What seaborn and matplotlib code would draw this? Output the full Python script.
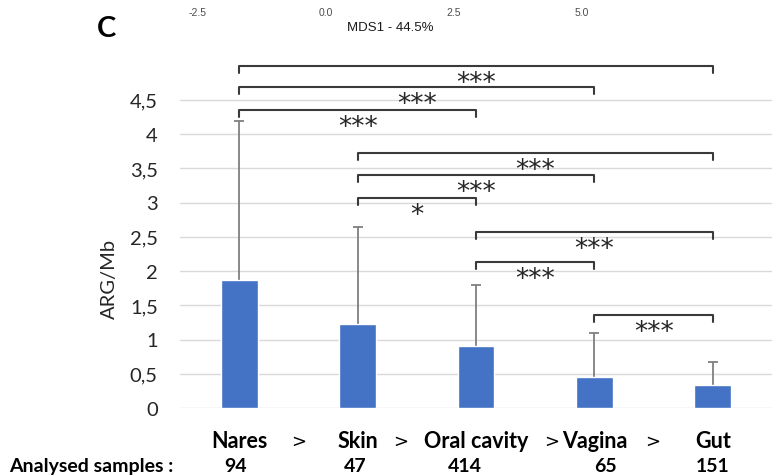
import matplotlib
matplotlib.use("Agg")
import matplotlib.pyplot as plt
import matplotlib.transforms as mtransforms
import seaborn as sns
import pandas as pd
import numpy as np

# ---- data ----
sites = ["Nares", "Skin", "Oral cavity", "Vagina", "Gut"]
arg_mean = [1.87, 1.22, 0.90, 0.45, 0.34]
arg_sd = [2.32, 1.42, 0.89, 0.64, 0.33]
n_samples = ["94", "47", "414", "65", "151"]

# significance comparisons (index left, index right, bracket height, label)
comp_left = [0, 0, 0, 1, 1, 1, 2, 2, 3]
comp_right = [4, 3, 2, 4, 3, 2, 4, 3, 4]
comp_height = [4.99, 4.68, 4.355, 3.72, 3.40, 3.07, 2.565, 2.13, 1.36]
comp_label = ["***", "***", "***", "***", "***", "*", "***", "***", "***"]

yticks = [0, 0.5, 1, 1.5, 2, 2.5, 3, 3.5, 4, 4.5]
mds_ticks = [-2.5, 0.0, 2.5, 5.0]

sns.set_theme(style="white")
plt.rcParams["font.family"] = ["Lato", "DejaVu Sans"]

W, H = 772, 477
fig = plt.figure(figsize=(W / 100, H / 100), dpi=100)

# main axes
ax_l, ax_r, ax_b, ax_t = 180, 772, 409, 59.65
ax = fig.add_axes([ax_l / W, (H - ax_b) / H, (ax_r - ax_l) / W, (ax_b - ax_t) / H])

df = pd.DataFrame({"site": sites, "value": arg_mean})
sns.barplot(data=df, x="site", y="value", order=sites, color="#4472C4",
            saturation=1, width=0.31, errorbar=None, ax=ax, zorder=3)

xpos = np.arange(len(sites))
eb = ax.errorbar(xpos, arg_mean, yerr=[np.zeros(len(sites)), arg_sd], fmt="none",
                 ecolor="#7f7f7f", elinewidth=1.3, capsize=3.4, capthick=1.3, zorder=2)
for cl in eb[1]:
    if np.allclose(cl.get_ydata(), arg_mean):
        cl.set_visible(False)

ax.set_xlim(-0.5, 4.5)
ax.set_ylim(0, 5.1)
ax.set_yticks(yticks)
ax.set_yticklabels([f"{v:g}".replace(".", ",") for v in yticks])
ax.yaxis.grid(True, color="#d9d9d9", lw=1.0)
ax.set_axisbelow(True)
for s in ax.spines.values():
    s.set_visible(False)
ax.tick_params(axis="y", length=0, pad=16, labelsize=14.5, labelcolor="#262626")
ax.tick_params(axis="x", length=0, pad=16, labelsize=15.5)
for lab in ax.get_xticklabels():
    lab.set_fontweight("bold")
    lab.set_color("black")
ax.set_xlabel("")
ax.set_ylabel("ARG/Mb", fontsize=14.5, color="#262626")
ax.yaxis.label.set(rotation_mode="anchor", ha="center", va="bottom")
ax.yaxis.set_label_coords(-0.1047, 0.372)

# brackets
tick_h = 0.1
for i, j, h, lab in zip(comp_left, comp_right, comp_height, comp_label):
    ax.plot([i, i, j, j], [h - tick_h, h, h, h - tick_h], color="#3a3a3a",
            lw=1.5, clip_on=False, zorder=4)
    ax.text((i + j) / 2, h - 0.35, lab, ha="center", va="baseline", fontsize=19,
            color="#262626", clip_on=False, family=["DejaVu Sans"])

# ">" separators and sample counts
trans = mtransforms.blended_transform_factory(ax.transData, ax.transAxes)
gt_pos = [0.50, 1.36, 2.64, 3.49]
for gx in gt_pos:
    ax.text(gx, -0.1088, ">", transform=trans, ha="center", va="baseline",
            fontsize=13, color="black", family=["DejaVu Sans"])
num_shift = [-0.03, -0.02, -0.09, 0.09, 0.0]
for k, lab in enumerate(n_samples):
    ax.text(k + num_shift[k], -0.1803, lab, transform=trans, ha="center",
            va="baseline", fontsize=14, fontweight="bold", color="black")
fig.text(9 / W, 1 - 472 / H, "Analysed samples :", ha="left", va="baseline",
         fontsize=14, fontweight="bold", color="black")

# panel letter
fig.text(97 / W, 1 - 37 / H, "C", ha="left", va="baseline", fontsize=21,
         fontweight="bold", color="black")

# remnant of the previous panel's x axis at the top
axm = fig.add_axes([198 / W, 1 - 0.001, (582 - 198) / W, 0.0005])
axm.set_xlim(-2.5, 5.0)
axm.set_ylim(0, 1)
axm.set_facecolor("none")
for s in axm.spines.values():
    s.set_visible(False)
axm.set_yticks([])
axm.set_xticks(mds_ticks)
axm.set_xticklabels([f"{v:.1f}" for v in mds_ticks], fontsize=7.5,
                    color="#4d4d4d", family=["Liberation Sans"])
axm.tick_params(axis="x", direction="out", length=3.5, width=1.0, color="#333333", pad=2)
axm.set_xlabel("MDS1 - 44.5%", fontsize=9.5, color="#1a1a1a",
               family=["Liberation Sans"], labelpad=3)

fig.savefig("out.png", dpi=100, facecolor="white")
